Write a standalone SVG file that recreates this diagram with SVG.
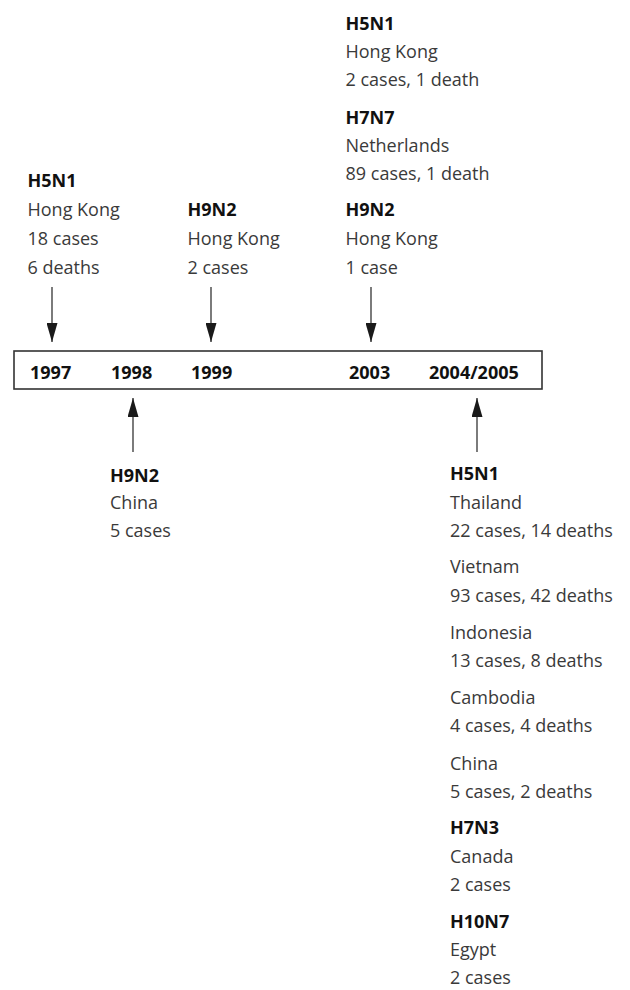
<svg xmlns="http://www.w3.org/2000/svg" width="630" height="990" viewBox="0 0 630 990">
  <defs>
    <marker id="arrow" markerUnits="userSpaceOnUse" markerWidth="19" markerHeight="11" refX="19" refY="5.5" orient="auto">
      <path d="M0,0 L19,5.5 L0,11 z" fill="#1a1a1a"/>
    </marker>
    <style>
      text { font-family: "Open Sans", "Noto Sans", "Liberation Sans", sans-serif; font-size: 18px; }
      .b { font-weight: bold; fill: #111; }
      .r { fill: #3a3a3a; }
      .yr { font-weight: bold; fill: #111; }
      .conn { stroke: #444; stroke-width: 1.4; fill: none; marker-end: url(#arrow); }
      .box { fill: #fff; stroke: #333; stroke-width: 1.6; }
    </style>
  </defs>
  <rect width="630" height="990" fill="#fff"/>

  <g id="timeline">
    <rect class="box" x="14" y="351" width="528" height="38"/>
    <text class="yr" x="30" y="379">1997</text>
    <text class="yr" x="111" y="379">1998</text>
    <text class="yr" x="191" y="379">1999</text>
    <text class="yr" x="349" y="379">2003</text>
    <text class="yr" x="429" y="379">2004/2005</text>
  </g>

  <g id="connectors">
    <line class="conn" x1="52" y1="287" x2="52" y2="342"/>
    <line class="conn" x1="211" y1="287" x2="211" y2="342"/>
    <line class="conn" x1="371" y1="287" x2="371" y2="342"/>
    <line class="conn" x1="133" y1="452" x2="133" y2="398"/>
    <line class="conn" x1="477" y1="452" x2="477" y2="398"/>
  </g>

  <g id="event-1997">
    <text class="b" x="27.5" y="187">H5N1</text>
    <text class="r" x="27.5" y="216">Hong Kong</text>
    <text class="r" x="27.5" y="245">18 cases</text>
    <text class="r" x="27.5" y="274">6 deaths</text>
  </g>

  <g id="event-1999">
    <text class="b" x="187.5" y="216">H9N2</text>
    <text class="r" x="187.5" y="245">Hong Kong</text>
    <text class="r" x="187.5" y="274">2 cases</text>
  </g>

  <g id="event-2003">
    <text class="b" x="345.5" y="30">H5N1</text>
    <text class="r" x="345.5" y="58">Hong Kong</text>
    <text class="r" x="345.5" y="86">2 cases, 1 death</text>
    <text class="b" x="345.5" y="124">H7N7</text>
    <text class="r" x="345.5" y="152">Netherlands</text>
    <text class="r" x="345.5" y="180">89 cases, 1 death</text>
    <text class="b" x="345.5" y="216">H9N2</text>
    <text class="r" x="345.5" y="245">Hong Kong</text>
    <text class="r" x="345.5" y="274">1 case</text>
  </g>

  <g id="event-1998">
    <text class="b" x="110" y="482">H9N2</text>
    <text class="r" x="110" y="509">China</text>
    <text class="r" x="110" y="537">5 cases</text>
  </g>

  <g id="event-2004-2005">
    <text class="b" x="450" y="480">H5N1</text>
    <text class="r" x="450" y="509">Thailand</text>
    <text class="r" x="450" y="537">22 cases, 14 deaths</text>
    <text class="r" x="450" y="573">Vietnam</text>
    <text class="r" x="450" y="602">93 cases, 42 deaths</text>
    <text class="r" x="450" y="639">Indonesia</text>
    <text class="r" x="450" y="667">13 cases, 8 deaths</text>
    <text class="r" x="450" y="704">Cambodia</text>
    <text class="r" x="450" y="732">4 cases, 4 deaths</text>
    <text class="r" x="450" y="770">China</text>
    <text class="r" x="450" y="798">5 cases, 2 deaths</text>
    <text class="b" x="450" y="834">H7N3</text>
    <text class="r" x="450" y="863">Canada</text>
    <text class="r" x="450" y="891">2 cases</text>
    <text class="b" x="450" y="928">H10N7</text>
    <text class="r" x="450" y="956">Egypt</text>
    <text class="r" x="450" y="984">2 cases</text>
  </g>
</svg>
